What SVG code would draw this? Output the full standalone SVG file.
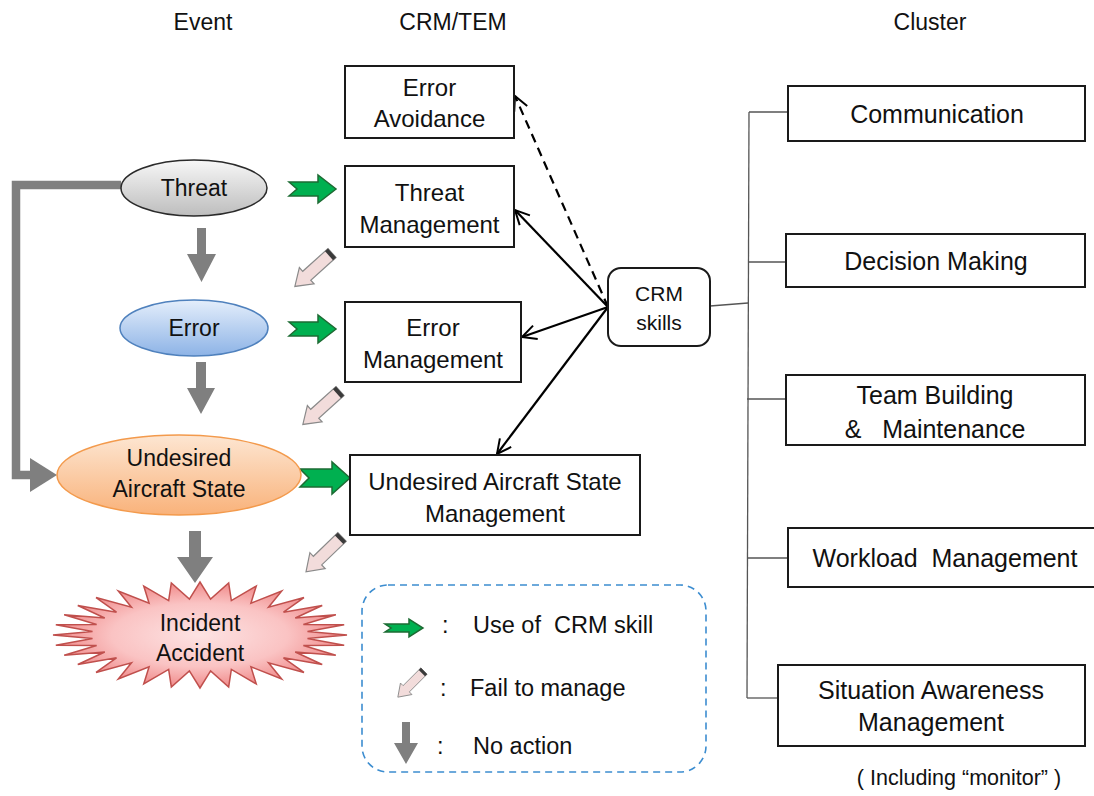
<svg xmlns="http://www.w3.org/2000/svg" xmlns:xlink="http://www.w3.org/1999/xlink" width="1094" height="796" viewBox="0 0 1094 796">
  <style>
    text { font-family: "Liberation Sans", Arial, sans-serif; fill: #111; text-anchor: middle; }
    .hdr { font-size: 23px; }
    .lbl { font-size: 24px; }
    .cl { font-size: 25px; }
    .el { font-size: 23px; }
    .lg { font-size: 23.5px; text-anchor: start; }
    .box { fill: #fff; stroke: #1a1a1a; stroke-width: 2; }
    .tree { fill: none; stroke: #555; stroke-width: 1.3; }
    .link { fill: none; stroke: #000; stroke-width: 2.2; marker-end: url(#open); }
    .use { fill: #00b050; stroke: #1d6b33; stroke-width: 1.5; stroke-linejoin: miter; }
    .none { fill: #7f7f7f; }
  </style>
  <defs>
    <linearGradient id="gThreat" x1="0" y1="0" x2="0" y2="1">
      <stop offset="0" stop-color="#f7f7f7"/>
      <stop offset="1" stop-color="#bdbdbd"/>
    </linearGradient>
    <linearGradient id="gError" x1="0" y1="0" x2="0" y2="1">
      <stop offset="0" stop-color="#e4eefb"/>
      <stop offset="1" stop-color="#8db3e6"/>
    </linearGradient>
    <linearGradient id="gUas" x1="0" y1="0" x2="0" y2="1">
      <stop offset="0" stop-color="#fde6d2"/>
      <stop offset="1" stop-color="#f9b27a"/>
    </linearGradient>
    <radialGradient id="gStar" cx="0.5" cy="0.5" r="0.5">
      <stop offset="0" stop-color="#fde3e3"/>
      <stop offset="0.6" stop-color="#fac3c3"/>
      <stop offset="1" stop-color="#f08a8a"/>
    </radialGradient>
    <marker id="open" viewBox="0 0 12 12" refX="11" refY="6" markerWidth="17" markerHeight="17" markerUnits="userSpaceOnUse" orient="auto">
      <path d="M1,1 L11,6 L1,11" fill="none" stroke="#000" stroke-width="1.4"/>
    </marker>
    <!-- "fail to manage" pencil arrow, pointing along +x from its tail at the origin -->
    <g id="fail">
      <path d="M0,-6 L34,-6 L34,-11 L50,0 L34,11 L34,6 L0,6 Z" fill="#f2dcdb" stroke="#8a8a8a" stroke-width="1.2"/>
      <path d="M0,-6 L4,-6 L4,6 L0,6 Z" fill="#3a3a3a"/>
    </g>
  </defs>

  <!-- column headings -->
  <text class="hdr" x="203" y="30">Event</text>
  <text class="hdr" x="453" y="30">CRM/TEM</text>
  <text class="hdr" x="930" y="30">Cluster</text>

  <!-- connectors -->
  <g id="connectors">
    <!-- no action: threat bypassing error straight to undesired state -->
    <path d="M121,185 L16,185 L16,475 L32,475" fill="none" stroke="#7f7f7f" stroke-width="8.5" stroke-linejoin="miter"/>
    <path class="none" d="M30,458 L57,475 L30,492 Z"/>
    <!-- no action arrows down the event column -->
    <path class="none" d="M197,228 L206,228 L206,254 L216,254 L201.5,282 L187,254 L197,254 Z"/>
    <path class="none" d="M196,362 L206,362 L206,388 L215,388 L201,414 L187,388 L196,388 Z"/>
    <path class="none" d="M189,531 L201,531 L201,557 L213,557 L195,583 L177,557 L189,557 Z"/>
    <!-- use of CRM skill -->
    <path class="use" d="M289,182 L318,182 L318,175 L336,189 L318,203 L318,196 L289,196 L297,189 Z"/>
    <path class="use" d="M289,322 L318,322 L318,315 L336,329 L318,343 L318,336 L289,336 L297,329 Z"/>
    <path class="use" d="M300,469 L332,469 L332,462 L350,478 L332,494 L332,487 L300,487 L309,478 Z"/>
    <!-- fail to manage -->
    <use xlink:href="#fail" transform="translate(332,253) rotate(138)"/>
    <use xlink:href="#fail" transform="translate(340,391) rotate(138)"/>
    <use xlink:href="#fail" transform="translate(342,537) rotate(136)"/>
    <!-- CRM skills feeding the TEM stages -->
    <line class="link" x1="608" y1="307" x2="515" y2="96" stroke-dasharray="9,6"/>
    <line class="link" x1="608" y1="307" x2="515" y2="210"/>
    <line class="link" x1="608" y1="307" x2="522" y2="337"/>
    <line class="link" x1="608" y1="307" x2="497" y2="454"/>
    <!-- cluster tree -->
    <path class="tree" d="M710,306 L748,303"/>
    <path class="tree" d="M749,112 L747,698"/>
    <path class="tree" d="M749,112 L788,112"/>
    <path class="tree" d="M748,262 L786,262"/>
    <path class="tree" d="M747,399 L786,399"/>
    <path class="tree" d="M747,558 L788,558"/>
    <path class="tree" d="M747,698 L778,698"/>
  </g>

  <!-- event column -->
  <g id="threat">
    <ellipse cx="194" cy="188" rx="73" ry="28" fill="url(#gThreat)" stroke="#2a2a2a" stroke-width="1.5"/>
    <text class="el" x="194" y="196">Threat</text>
  </g>
  <g id="error">
    <ellipse cx="194" cy="328" rx="74" ry="28" fill="url(#gError)" stroke="#4f81bd" stroke-width="1.5"/>
    <text class="el" x="194" y="336">Error</text>
  </g>
  <g id="undesired-state">
    <ellipse cx="179" cy="475" rx="122" ry="40" fill="url(#gUas)" stroke="#f39a4c" stroke-width="1.5"/>
    <text class="el" x="179" y="466">Undesired</text>
    <text class="el" x="179" y="497">Aircraft State</text>
  </g>
  <g id="incident">
    <!-- 32-point burst -->
    <polygon fill="url(#gStar)" stroke="#c0504d" stroke-width="1.5" stroke-linejoin="miter"
      points="347,635 307.48,638.53 344.18,645.34 303.35,645.45 335.81,655.28 295.25,651.97 322.23,664.45 283.49,657.84 303.95,672.48 268.51,662.83 281.67,679.07 250.91,666.75 256.25,683.97 231.35,669.45 228.68,686.98 210.59,670.83 200,688 189.41,670.83 171.32,686.98 168.65,669.45 143.75,683.97 149.09,666.75 118.33,679.07 131.49,662.83 96.05,672.48 116.51,657.84 77.77,664.45 104.75,651.97 64.19,655.28 96.65,645.45 55.82,645.34 92.52,638.53 53,635 92.52,631.47 55.82,624.66 96.65,624.55 64.19,614.72 104.75,618.03 77.77,605.55 116.51,612.16 96.05,597.52 131.49,607.17 118.33,590.93 149.09,603.25 143.75,586.03 168.65,600.55 171.32,583.02 189.41,599.17 200,582 210.59,599.17 228.68,583.02 231.35,600.55 256.25,586.03 250.91,603.25 281.67,590.93 268.51,607.17 303.95,597.52 283.49,612.16 322.23,605.55 295.25,618.03 335.81,614.72 303.35,624.55 344.18,624.66 307.48,631.47"/>
    <text class="el" x="200" y="631">Incident</text>
    <text class="el" x="200" y="661">Accident</text>
  </g>

  <!-- CRM/TEM column -->
  <g id="error-avoidance">
    <rect class="box" x="345" y="66" width="169" height="72"/>
    <text class="lbl" x="429.5" y="96">Error</text>
    <text class="lbl" x="429.5" y="127">Avoidance</text>
  </g>
  <g id="threat-management">
    <rect class="box" x="345" y="166" width="169" height="81"/>
    <text class="lbl" x="429.5" y="201">Threat</text>
    <text class="lbl" x="429.5" y="233">Management</text>
  </g>
  <g id="error-management">
    <rect class="box" x="345" y="302" width="176" height="80"/>
    <text class="lbl" x="433" y="336">Error</text>
    <text class="lbl" x="433" y="368">Management</text>
  </g>
  <g id="state-management">
    <rect class="box" x="350" y="455" width="290" height="80"/>
    <text class="lbl" x="495" y="490">Undesired Aircraft State</text>
    <text class="lbl" x="495" y="522">Management</text>
  </g>
  <g id="crm-skills">
    <rect class="box" x="608" y="268" width="102" height="78" rx="13"/>
    <text x="659" y="301" style="font-size:21px">CRM</text>
    <text x="659" y="330" style="font-size:21px">skills</text>
  </g>

  <!-- cluster column -->
  <g id="communication">
    <rect class="box" x="788" y="86" width="297" height="55"/>
    <text class="cl" x="937" y="123">Communication</text>
  </g>
  <g id="decision-making">
    <rect class="box" x="786" y="234" width="299" height="53"/>
    <text class="cl" x="936" y="270">Decision Making</text>
  </g>
  <g id="team-building">
    <rect class="box" x="786" y="375" width="299" height="70"/>
    <text class="cl" x="935" y="404">Team Building</text>
    <text class="cl" x="935" y="438" xml:space="preserve">&amp;   Maintenance</text>
  </g>
  <g id="workload">
    <rect class="box" x="788" y="528" width="312" height="59"/>
    <text class="cl" x="945" y="567" xml:space="preserve">Workload  Management</text>
  </g>
  <g id="situation-awareness">
    <rect class="box" x="778" y="665" width="307" height="81"/>
    <text class="cl" x="931" y="699">Situation Awareness</text>
    <text class="cl" x="931" y="731">Management</text>
  </g>
  <text x="959" y="785" style="font-size:21.5px">( Including “monitor” )</text>

  <!-- legend -->
  <g id="legend">
    <rect x="362" y="585" width="344" height="187" rx="26" fill="none" stroke="#3c8dd0" stroke-width="1.6" stroke-dasharray="7,5"/>
    <path class="use" d="M385,624 L409,624 L409,619 L423,628 L409,637 L409,632 L385,632 L391,628 Z" stroke-width="1"/>
    <text class="lg" x="442" y="633">:</text>
    <text class="lg" x="473" y="633" xml:space="preserve">Use of  CRM skill</text>
    <use xlink:href="#fail" transform="translate(424,671) rotate(135) scale(0.74)"/>
    <text class="lg" x="440" y="696">:</text>
    <text class="lg" x="470" y="696">Fail to manage</text>
    <path class="none" d="M402,722 L410,722 L410,743 L418,743 L406,764 L394,743 L402,743 Z"/>
    <text class="lg" x="437" y="754">:</text>
    <text class="lg" x="473" y="754">No action</text>
  </g>
</svg>
